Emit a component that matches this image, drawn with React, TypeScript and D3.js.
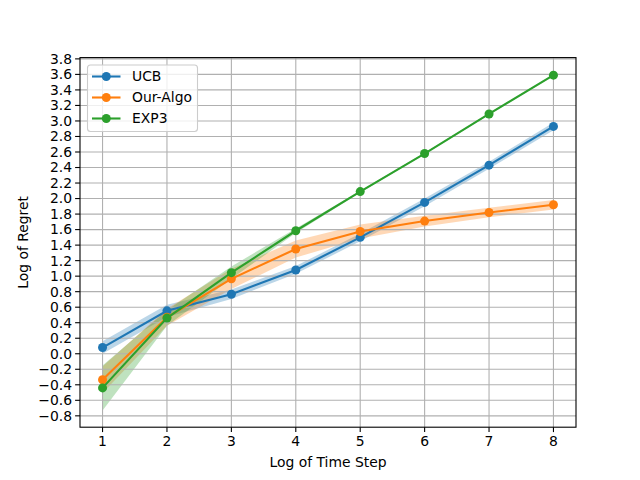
import React from "react";
import * as d3 from "d3";

const steps = [1, 2, 3, 4, 5, 6, 7, 8];
const ucb = [0.08, 0.553, 0.767, 1.08, 1.5, 1.95, 2.43, 2.93];
const ucbErr = [0.08, 0.08, 0.06, 0.05, 0.05, 0.05, 0.045, 0.05];
const ours = [-0.335, 0.47, 0.965, 1.35, 1.575, 1.71, 1.82, 1.92];
const oursErr = [0.17, 0.11, 0.13, 0.11, 0.09, 0.07, 0.06, 0.06];
const exp3 = [-0.44, 0.46, 1.045, 1.585, 2.09, 2.58, 3.09, 3.59];
const exp3Err = [0.29, 0.1, 0.08, 0.03, 0.012, 0.01, 0.01, 0.01];
const seriesNames = ["UCB", "Our-Algo", "EXP3"];
const colors = ["#1f77b4", "#ff7f0e", "#2ca02c"];
const yTicks = d3.range(-0.8, 3.81, 0.2).map((v) => Math.round(v * 10) / 10);
const xTicks = [1, 2, 3, 4, 5, 6, 7, 8];

const W = 640, H = 480;
const L = 80, R = 576, T = 57.6, B = 427.2;
const FONT = "DejaVu Sans, sans-serif";

export default function App() {
  const series = [
    { name: seriesNames[0], v: ucb, e: ucbErr, c: colors[0] },
    { name: seriesNames[1], v: ours, e: oursErr, c: colors[1] },
    { name: seriesNames[2], v: exp3, e: exp3Err, c: colors[2] },
  ];
  const allLo = series.flatMap((s) => s.v.map((v, i) => v - s.e[i]));
  const allHi = series.flatMap((s) => s.v.map((v, i) => v + s.e[i]));
  const ymin = d3.min(allLo)!, ymax = d3.max(allHi)!;
  const ym = (ymax - ymin) * 0.05;
  const x = d3.scaleLinear().domain([1 - 0.35, 8 + 0.35]).range([L, R]);
  const y = d3.scaleLinear().domain([ymin - ym, ymax + ym]).range([B, T]);
  const line = d3.line<number>().x((_, i) => x(steps[i])).y((d) => y(d));
  const fmt = (v: number) => (v < 0 ? "\u2212" + Math.abs(v).toFixed(1) : v.toFixed(1));

  return (
    <svg width={W} height={H} style={{ position: "absolute", left: 0, top: 0 }} fontFamily={FONT}>
      <rect width={W} height={H} fill="#fff" />
      {series.map((s) => {
        const area = d3
          .area<number>()
          .x((_, i) => x(steps[i]))
          .y0((d, i) => y(d - s.e[i]))
          .y1((d, i) => y(d + s.e[i]));
        return <path key={"a" + s.name} d={area(s.v)!} fill={s.c} fillOpacity={0.3} />;
      })}
      {xTicks.map((t) => (
        <line key={"gx" + t} x1={x(t)} x2={x(t)} y1={T} y2={B} stroke="#b0b0b0" strokeWidth={1.1} />
      ))}
      {yTicks.map((t) => (
        <line key={"gy" + t} x1={L} x2={R} y1={y(t)} y2={y(t)} stroke="#b0b0b0" strokeWidth={1.1} />
      ))}
      {series.map((s) => (
        <g key={"l" + s.name}>
          <path d={line(s.v)!} fill="none" stroke={s.c} strokeWidth={2.1} />
          {s.v.map((v, i) => (
            <circle key={i} cx={x(steps[i])} cy={y(v)} r={4.5} fill={s.c} />
          ))}
        </g>
      ))}
      <rect x={L} y={T} width={R - L} height={B - T} fill="none" stroke="#000" strokeWidth={1.1} />
      {xTicks.map((t) => (
        <g key={"tx" + t}>
          <line x1={x(t)} x2={x(t)} y1={B} y2={B + 4.9} stroke="#000" strokeWidth={1.1} />
          <text x={x(t)} y={B + 19} textAnchor="middle" fontSize={13.9} fill="#000">
            {t}
          </text>
        </g>
      ))}
      {yTicks.map((t) => (
        <g key={"ty" + t}>
          <line x1={L - 4.9} x2={L} y1={y(t)} y2={y(t)} stroke="#000" strokeWidth={1.1} />
          <text x={L - 8} y={y(t)} dy="0.35em" textAnchor="end" fontSize={13.9} fill="#000">
            {fmt(t)}
          </text>
        </g>
      ))}
      <text x={(L + R) / 2} y={467} textAnchor="middle" fontSize={13.9} fill="#000">
        Log of Time Step
      </text>
      <text
        transform={`translate(28,${(T + B) / 2}) rotate(-90)`}
        textAnchor="middle"
        fontSize={13.9}
        fill="#000"
      >
        Log of Regret
      </text>
      <g>
        <rect x={87.5} y={65} width={110} height={66.5} rx={3} fill="#fff" fillOpacity={0.8} stroke="#cccccc" strokeWidth={1.1} />
        {series.map((s, i) => {
          const ly = 76.5 + i * 21;
          return (
            <g key={"lg" + s.name}>
              <line x1={92} x2={120.5} y1={ly} y2={ly} stroke={s.c} strokeWidth={2.1} />
              <circle cx={106.3} cy={ly} r={4.5} fill={s.c} />
              <text x={132} y={ly} dy="0.35em" fontSize={13.9} fill="#000">
                {s.name}
              </text>
            </g>
          );
        })}
      </g>
    </svg>
  );
}
